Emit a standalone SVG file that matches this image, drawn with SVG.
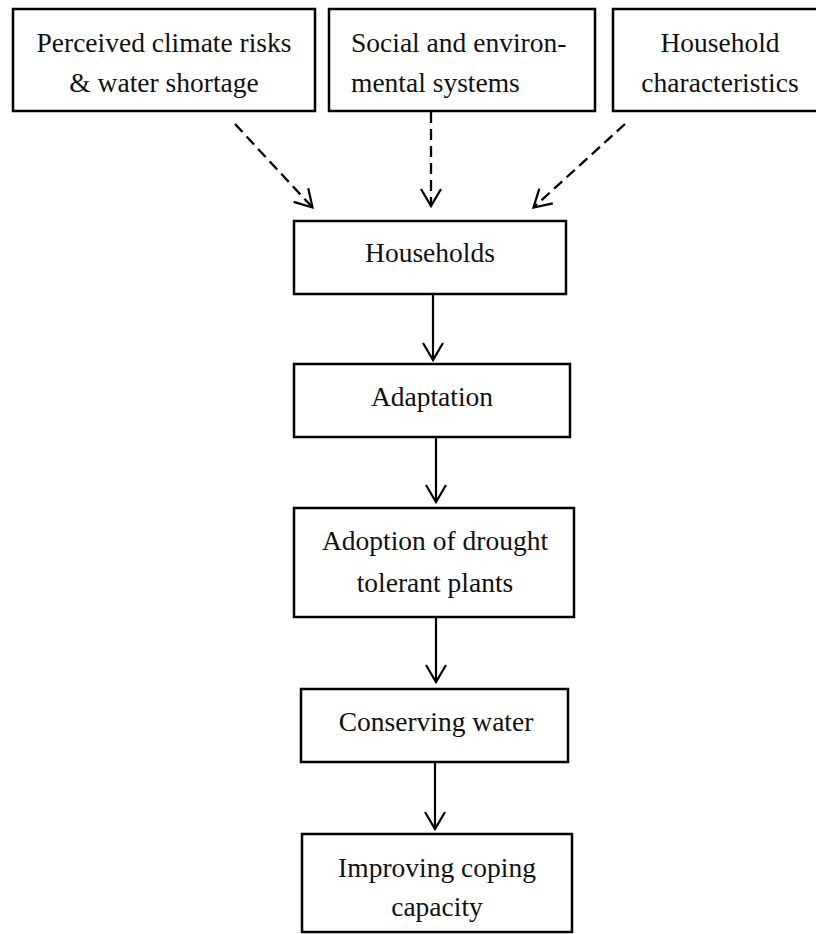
<svg xmlns="http://www.w3.org/2000/svg" width="816" height="934" viewBox="0 0 816 934">
<style>
.box{fill:#fff;stroke:#000;stroke-width:2.5}
.t{font-family:"Liberation Serif","Times New Roman",serif;font-size:27.5px;fill:#111}
.c{text-anchor:middle}
.dash{stroke:#000;stroke-width:2.3;fill:none;stroke-dasharray:11 6}
.solid{stroke:#000;stroke-width:2.2;fill:none}
</style>
<defs>
<marker id="ah" markerUnits="userSpaceOnUse" markerWidth="22" markerHeight="26" viewBox="-19 -12 22 24" refX="0" refY="0" orient="auto" overflow="visible">
<path d="M-17,-10 L0,0 L-17,10" fill="none" stroke="#000" stroke-width="2.2" stroke-dasharray="none"/>
</marker>
</defs>
<rect width="816" height="934" fill="#fff"/>
<g id="connectors">
<line class="dash" x1="235" y1="124" x2="312.5" y2="207.5" marker-end="url(#ah)"/>
<line class="dash" x1="431" y1="112" x2="431" y2="206" marker-end="url(#ah)"/>
<line class="dash" x1="625" y1="124" x2="533.5" y2="207.5" marker-end="url(#ah)"/>
<line class="solid" x1="433" y1="294" x2="433" y2="360" marker-end="url(#ah)"/>
<line class="solid" x1="436" y1="437" x2="436" y2="502" marker-end="url(#ah)"/>
<line class="solid" x1="436" y1="618" x2="436" y2="682" marker-end="url(#ah)"/>
<line class="solid" x1="435" y1="762" x2="435" y2="829" marker-end="url(#ah)"/>
</g>
<g id="perceived">
<rect class="box" x="13" y="9" width="302" height="102"/>
<text class="t c" x="164" y="52">Perceived climate risks</text>
<text class="t c" x="164" y="92">&amp; water shortage</text>
</g>
<g id="social">
<rect class="box" x="329" y="9" width="266" height="102"/>
<text class="t" x="351" y="52">Social and environ-</text>
<text class="t" x="351" y="92">mental systems</text>
</g>
<g id="household-char">
<rect class="box" x="613" y="9" width="214" height="102"/>
<text class="t c" x="720" y="52">Household</text>
<text class="t c" x="720" y="92">characteristics</text>
</g>
<g id="households">
<rect class="box" x="294" y="221" width="272" height="73"/>
<text class="t c" x="430" y="262">Households</text>
</g>
<g id="adaptation">
<rect class="box" x="294" y="364" width="276" height="73"/>
<text class="t c" x="432" y="406">Adaptation</text>
</g>
<g id="adoption">
<rect class="box" x="294" y="508" width="280" height="109"/>
<text class="t c" x="435" y="550">Adoption of drought</text>
<text class="t c" x="435" y="592">tolerant plants</text>
</g>
<g id="conserving">
<rect class="box" x="301" y="689" width="267" height="73"/>
<text class="t c" x="436" y="731">Conserving water</text>
</g>
<g id="improving">
<rect class="box" x="302" y="834" width="270" height="98"/>
<text class="t c" x="437" y="877">Improving coping</text>
<text class="t c" x="437" y="916">capacity</text>
</g>
</svg>
